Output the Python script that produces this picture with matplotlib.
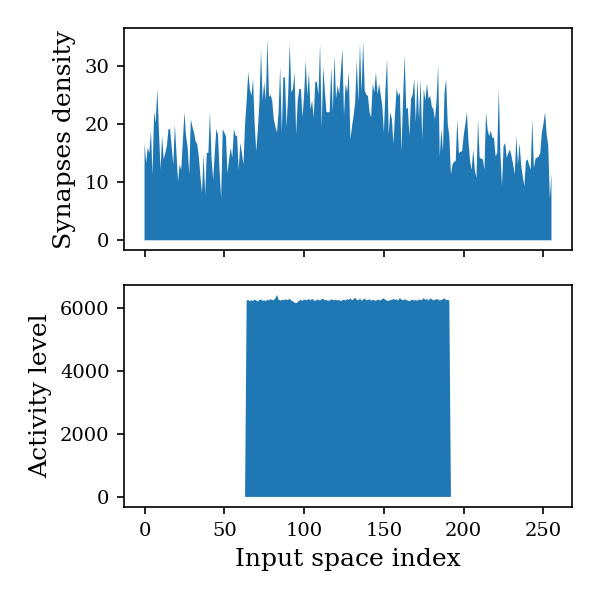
import matplotlib
matplotlib.use("Agg")
import matplotlib.pyplot as plt
import numpy as np

plt.rcParams['font.family'] = 'DejaVu Serif'
plt.rcParams['xtick.labelsize'] = 14
plt.rcParams['ytick.labelsize'] = 14
plt.rcParams['xtick.major.size'] = 5.25
plt.rcParams['ytick.major.size'] = 5.25
plt.rcParams['xtick.major.width'] = 1.2
plt.rcParams['ytick.major.width'] = 1.2
plt.rcParams['xtick.major.pad'] = 5.25
plt.rcParams['ytick.major.pad'] = 5.25
plt.rcParams['axes.linewidth'] = 1.2
plt.rcParams['axes.labelsize'] = 18
plt.rcParams['axes.labelpad'] = 6

# synapse density per input index (0..255)
density = [
    16.7, 13.3, 15.9, 15, 18.8, 11.3, 22, 20.2, 26, 19,
    12.1, 17.9, 13.9, 15, 16.2, 19.1, 19.1, 16, 13, 19.9,
    15, 10.1, 13, 12.1, 17, 22, 17.9, 16, 11.3, 20.8,
    19.5, 18.5, 17,
    16.5, 14.4, 11, 8.1, 14.7, 7.8, 15, 15, 22, 14, 10.4, 15, 19.1, 18.2, 12, 7.2,
    19.1, 18.5, 17.9, 11.5, 14, 15.9, 14.2, 19.1, 18, 17.9, 12.1, 16.7, 15, 13, 20, 24,
    28.9, 26, 24.8, 27.7, 20, 15.3, 19, 23.7, 32.7, 24, 27.2, 24, 34.7, 24.6, 25, 24,
    20.8, 19.5, 18.5, 22, 29.8, 18.5, 28, 28, 19.4, 25, 33.8, 25.4, 26, 28.9, 18.2, 24,
    26, 26, 21.1, 25, 30.9, 24.8, 28.9, 22.5, 24, 21.1, 27.2, 27.2, 25, 33.8, 19.4, 29.8,
    25.7, 22, 22, 22, 29.8, 22, 31.8, 24.3, 26.6, 25.1, 28.9, 32.9, 21.4,
    26.9, 25.4, 28.9, 17.3, 19.5, 21.4, 23.7, 30.9, 23.7, 33.8, 25.4, 34.1, 25.7, 25,
    24.8, 22, 21.1, 26.9, 25.4, 28.9, 25.1, 26.9, 25, 23.1, 18.5, 26, 31.2, 18.2, 22,
    20.8, 16.5, 22, 26, 24.8,
    25.4, 15.3, 24, 31.8, 22.5, 22.8, 17.9, 24.3, 25, 27.7, 20.2, 27.7, 20.8, 27.7, 17.3,
    26, 24, 26.9, 24.3, 24.8, 23, 22.5, 20.8, 24, 30.1, 14.4, 19.1, 15.3, 25.4, 27.7, 20,
    17.9, 11.3, 13, 13.5, 13.6, 20.8, 15, 15.2, 15.3, 18, 19.9, 22, 17, 13.6, 12.1, 15.6,
    12, 10.7, 20.8, 14.2, 14, 13.9, 12.1, 22, 19, 17.9, 18.8, 17.6, 17.6,
    14.4, 15, 26, 15, 9.3, 16.2, 16.7, 14.2, 15, 15.6, 14.4, 13, 11.3, 17.9, 13, 16.7,
    13, 11, 9.3, 13.6, 13.9, 13, 12.1, 20.8, 12.4, 14, 14.2, 14.4, 15, 18.5, 20, 22,
    18.2, 16.2, 7.2, 11.5,
]

# activity level in the active band (indices 64..191), zero elsewhere
active_start = 64
active_values = [
    6230, 6250, 6210, 6240, 6220, 6260, 6230, 6200, 6250, 6270,
    6220, 6240, 6210, 6260, 6230, 6280, 6240, 6250, 6300, 6410,
    6260, 6230, 6250, 6240, 6270, 6250, 6260, 6280, 6230, 6210,
    6160, 6150, 6180, 6230, 6250, 6220, 6270, 6240, 6250, 6280,
    6230, 6290, 6240, 6220, 6260, 6250, 6230, 6270, 6290, 6240,
    6250, 6220, 6230, 6270, 6250, 6240, 6260, 6230, 6250, 6210,
    6240, 6260, 6230, 6280, 6250, 6300, 6240, 6270, 6320, 6250,
    6240, 6290, 6230, 6260, 6300, 6240, 6250, 6270, 6230, 6250,
    6240, 6220, 6260, 6250, 6230, 6280, 6300, 6250, 6230, 6210,
    6260, 6240, 6290, 6250, 6270, 6230, 6310, 6260, 6240, 6270,
    6250, 6230, 6210, 6240, 6260, 6230, 6250, 6220, 6270, 6240,
    6260, 6310, 6250, 6280, 6230, 6300, 6270, 6240, 6250, 6280,
    6260, 6230, 6250, 6270, 6300, 6240, 6260, 6220,
]

n = len(density)
x = np.arange(n)
activity = np.zeros(n)
activity[active_start:active_start + len(active_values)] = active_values

fig, (ax1, ax2) = plt.subplots(2, 1, sharex=True, figsize=(6, 6), dpi=100)
fig.subplots_adjust(left=0.207, right=0.953, bottom=0.155, top=0.953, hspace=0.155)

ax1.fill_between(x, density)
ax1.set_ylabel('Synapses density')
ax1.set_yticks([0, 10, 20, 30])

ax2.fill_between(x, activity)
ax2.set_ylabel('Activity level')
ax2.set_xlabel('Input space index')
ax2.set_yticks([0, 2000, 4000, 6000])
ax2.set_xticks([0, 50, 100, 150, 200, 250])

fig.savefig('out.png', dpi=100)
